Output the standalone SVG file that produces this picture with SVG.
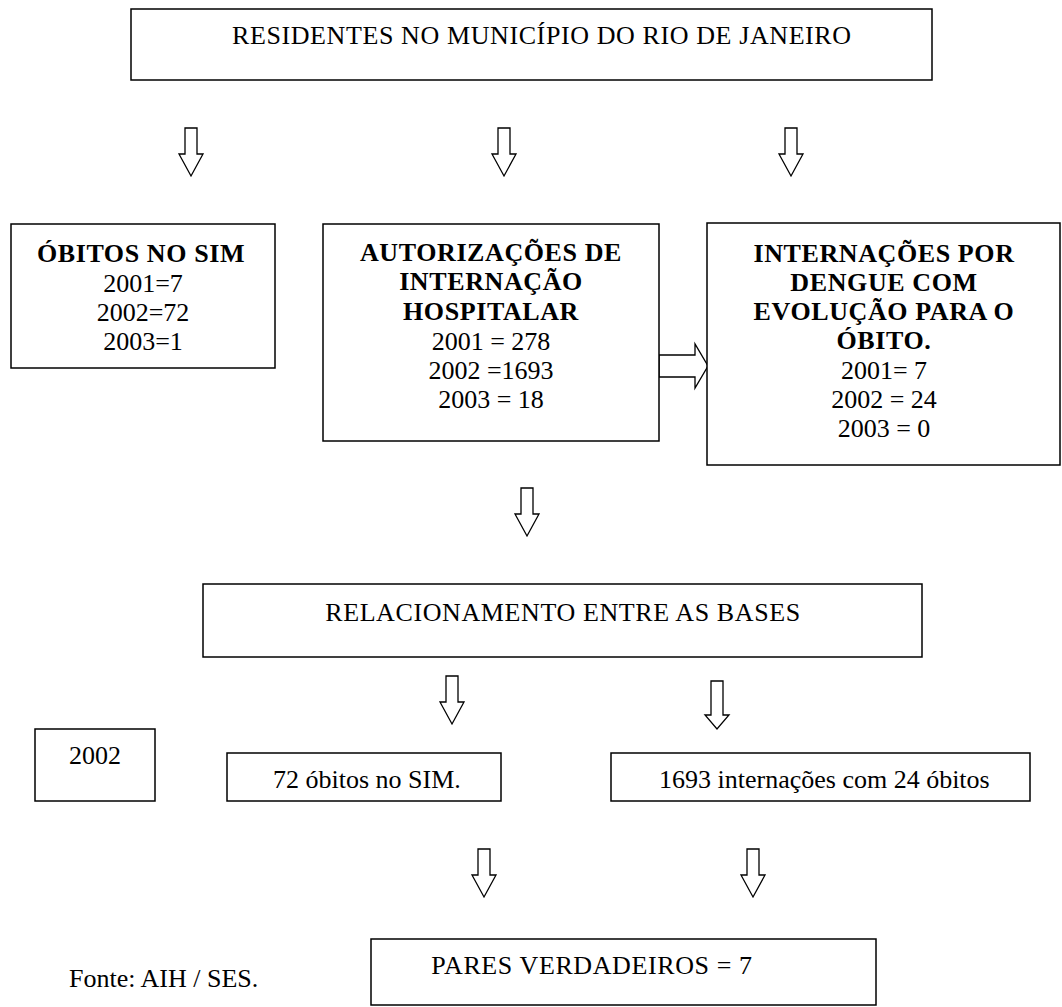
<svg xmlns="http://www.w3.org/2000/svg" width="1062" height="1007" viewBox="0 0 1062 1007">
  <style>
    .box { fill: #fff; stroke: #000; stroke-width: 1.5; }
    .arrow { fill: #fff; stroke: #000; stroke-width: 1.3; stroke-linejoin: miter; }
    text { font-family: "Liberation Serif", "Times New Roman", serif; font-size: 26px; fill: #000; }
    .c { text-anchor: middle; }
    .b { font-weight: bold; }
    .caps { letter-spacing: 0.6px; }
  </style>
  <defs>
    <!-- hollow block arrow pointing down, origin at top centre -->
    <path id="down" class="arrow" d="M-6,0 H6 V26 H12 L0,48 L-12,26 H-6 Z"/>
  </defs>
  <rect width="1062" height="1007" fill="#fff"/>

  <g id="connectors">
    <use href="#down" transform="translate(191,128)"/>
    <use href="#down" transform="translate(504,128)"/>
    <use href="#down" transform="translate(791,128)"/>
    <path class="arrow" d="M659,355 H695 V344 L708,366 L695,388 V377 H659 Z"/>
    <use href="#down" transform="translate(527,488)"/>
    <use href="#down" transform="translate(452,676)"/>
    <path class="arrow" d="M711,681 H723 V715 H729 L717,729 L705,715 H711 Z"/>
    <use href="#down" transform="translate(484,849)"/>
    <use href="#down" transform="translate(753,849)"/>
  </g>

  <g id="residentes">
    <rect class="box" x="131" y="9" width="801" height="71"/>
    <text class="caps" x="232" y="44">RESIDENTES NO MUNICÍPIO DO RIO DE JANEIRO</text>
  </g>

  <g id="obitos-sim">
    <rect class="box" x="11" y="224" width="264" height="144"/>
    <text class="c b caps" x="141" y="262">ÓBITOS NO SIM</text>
    <text class="c" x="143" y="292">2001=7</text>
    <text class="c" x="143" y="321">2002=72</text>
    <text class="c" x="143" y="350">2003=1</text>
  </g>

  <g id="aih">
    <rect class="box" x="323" y="224" width="336" height="217"/>
    <text class="c b caps" x="491" y="261">AUTORIZAÇÕES DE</text>
    <text class="c b caps" x="491" y="290">INTERNAÇÃO</text>
    <text class="c b caps" x="491" y="320">HOSPITALAR</text>
    <text class="c" x="491" y="350">2001 = 278</text>
    <text class="c" x="491" y="379">2002 =1693</text>
    <text class="c" x="491" y="408">2003 = 18</text>
  </g>

  <g id="internacoes-obito">
    <rect class="box" x="707" y="223" width="353" height="242"/>
    <text class="c b caps" x="884" y="262">INTERNAÇÕES POR</text>
    <text class="c b caps" x="884" y="291">DENGUE COM</text>
    <text class="c b caps" x="884" y="320">EVOLUÇÃO PARA O</text>
    <text class="c b caps" x="884" y="349">ÓBITO.</text>
    <text class="c" x="884" y="379">2001= 7</text>
    <text class="c" x="884" y="408">2002 = 24</text>
    <text class="c" x="884" y="437">2003 = 0</text>
  </g>

  <g id="relacionamento">
    <rect class="box" x="203" y="584" width="719" height="73"/>
    <text class="c caps" x="563" y="621">RELACIONAMENTO ENTRE AS BASES</text>
  </g>

  <g id="ano-2002">
    <rect class="box" x="35" y="729" width="120" height="72"/>
    <text class="c" x="95" y="764">2002</text>
  </g>

  <g id="obitos-72">
    <rect class="box" x="227" y="753" width="274" height="48"/>
    <text x="273" y="788">72 óbitos no SIM.</text>
  </g>

  <g id="internacoes-1693">
    <rect class="box" x="611" y="753" width="419" height="48"/>
    <text x="659" y="788">1693 internações com 24 óbitos</text>
  </g>

  <g id="pares">
    <rect class="box" x="371" y="939" width="505" height="66"/>
    <text class="c caps" x="592" y="974">PARES VERDADEIROS = 7</text>
  </g>

  <text x="69" y="987">Fonte: AIH / SES.</text>
</svg>
